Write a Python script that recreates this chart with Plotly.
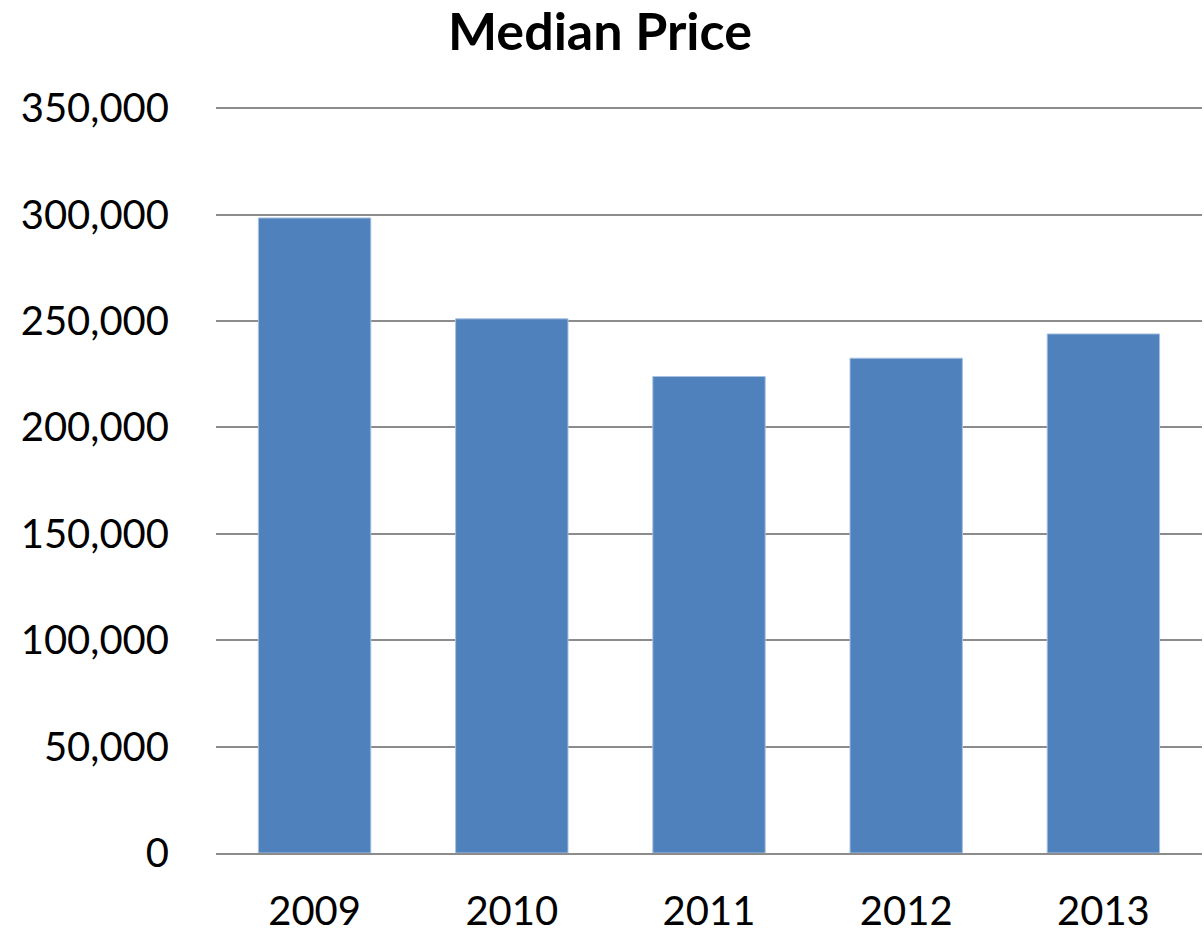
import plotly.graph_objects as go

years = ["2009", "2010", "2011", "2012", "2013"]
median_price = [298400, 251000, 223900, 232500, 243900]
y_tick_vals = [0, 50000, 100000, 150000, 200000, 250000, 300000, 350000]
y_tick_text = ["0", "50,000", "100,000", "150,000", "200,000", "250,000", "300,000", "350,000"]

W, H = 1204, 936

fig = go.Figure(go.Bar(
    x=years, y=median_price,
    marker=dict(color="#4F81BD", line=dict(color="#A9C1E0", width=1)),
))

fig.update_layout(
    width=W, height=H,
    paper_bgcolor="white", plot_bgcolor="white",
    margin=dict(l=216, r=2, t=106, b=83, autoexpand=False),
    bargap=0.43,
    showlegend=False,
    title=dict(text="<b>Median Price</b>", x=600 / W, xref="container", xanchor="center",
               y=1 - 32 / H, yref="container", yanchor="middle",
               font=dict(family="Lato", size=52, color="black")),
    font=dict(family="Lato", color="black"),
)
fig.update_yaxes(range=[0, 351000], tickvals=y_tick_vals, ticktext=y_tick_text,
                 showgrid=True, gridcolor="#8C8C8C", gridwidth=2, automargin=False,
                 zeroline=False, tickfont=dict(size=40), ticklabelstandoff=46)
fig.update_xaxes(showline=True, linecolor="#8C8C8C", linewidth=2, automargin=False,
                 tickfont=dict(size=40), ticklabelstandoff=22)

fig.write_html("out.html", config={"displayModeBar": False},
               post_script="document.body.style.margin='0';document.body.style.overflow='hidden';")
